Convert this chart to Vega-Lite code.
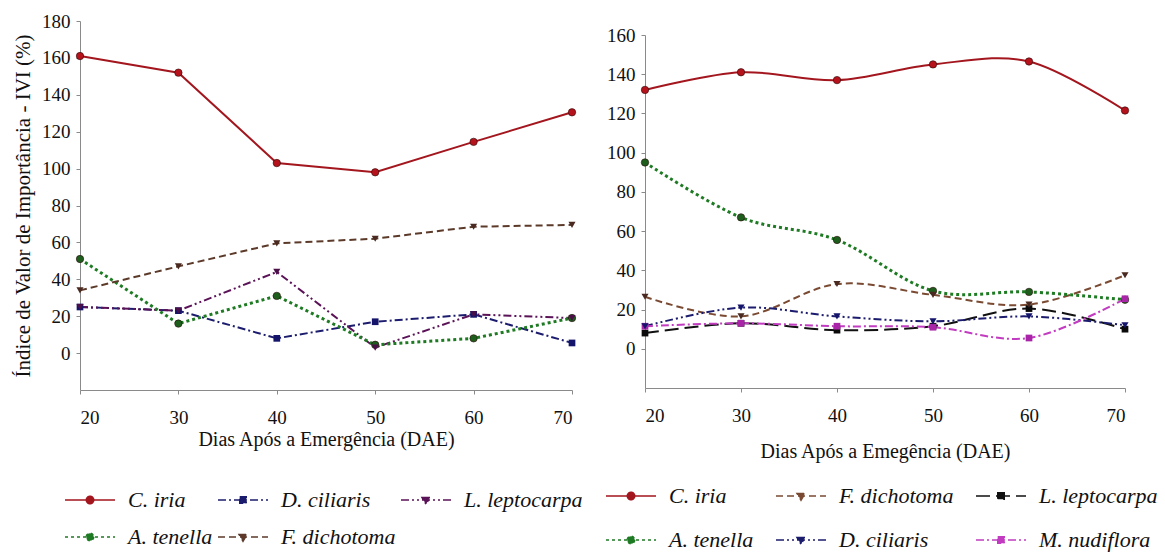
{
  "$schema": "https://vega.github.io/schema/vega-lite/v6.json",
  "padding": {"left": 12, "top": 12, "right": 5, "bottom": 5},
  "config": {
    "view": {"stroke": null},
    "axis": {"labelFont": "Liberation Serif", "labelFontSize": 19, "labelColor": "#111", "titleFont": "Liberation Serif", "titleFontWeight": "normal", "titleColor": "#111", "domainColor": "#8a8a8a", "tickColor": "#8a8a8a", "tickSize": 4, "grid": false},
    "legend": {"title": null, "orient": "none", "direction": "horizontal", "columns": 3, "gridAlign": "each", "symbolSize": 2500, "symbolStrokeWidth": 1.5, "labelFont": "Liberation Serif", "labelFontStyle": "italic", "labelFontSize": 22, "labelColor": "#111", "labelOffset": 12, "labelLimit": 400, "padding": 0}
  },
  "datasets": {
    "a": [
      {"dae": 20, "species": "C. iria", "ivi": 161}, {"dae": 30, "species": "C. iria", "ivi": 152}, {"dae": 40, "species": "C. iria", "ivi": 103}, {"dae": 50, "species": "C. iria", "ivi": 98}, {"dae": 60, "species": "C. iria", "ivi": 114.5}, {"dae": 70, "species": "C. iria", "ivi": 130.5},
      {"dae": 20, "species": "D. ciliaris", "ivi": 25}, {"dae": 30, "species": "D. ciliaris", "ivi": 23}, {"dae": 40, "species": "D. ciliaris", "ivi": 8}, {"dae": 50, "species": "D. ciliaris", "ivi": 17}, {"dae": 60, "species": "D. ciliaris", "ivi": 21}, {"dae": 70, "species": "D. ciliaris", "ivi": 5.5},
      {"dae": 20, "species": "L. leptocarpa", "ivi": 25}, {"dae": 30, "species": "L. leptocarpa", "ivi": 23}, {"dae": 40, "species": "L. leptocarpa", "ivi": 44}, {"dae": 50, "species": "L. leptocarpa", "ivi": 3}, {"dae": 60, "species": "L. leptocarpa", "ivi": 21}, {"dae": 70, "species": "L. leptocarpa", "ivi": 19},
      {"dae": 20, "species": "A. tenella", "ivi": 51}, {"dae": 30, "species": "A. tenella", "ivi": 16}, {"dae": 40, "species": "A. tenella", "ivi": 31}, {"dae": 50, "species": "A. tenella", "ivi": 4.5}, {"dae": 60, "species": "A. tenella", "ivi": 8}, {"dae": 70, "species": "A. tenella", "ivi": 19},
      {"dae": 20, "species": "F. dichotoma", "ivi": 34}, {"dae": 30, "species": "F. dichotoma", "ivi": 47}, {"dae": 40, "species": "F. dichotoma", "ivi": 59.5}, {"dae": 50, "species": "F. dichotoma", "ivi": 62}, {"dae": 60, "species": "F. dichotoma", "ivi": 68.5}, {"dae": 70, "species": "F. dichotoma", "ivi": 69.5}
    ],
    "b": [
      {"dae": 20, "species": "C. iria", "ivi": 132}, {"dae": 30, "species": "C. iria", "ivi": 141}, {"dae": 40, "species": "C. iria", "ivi": 137}, {"dae": 50, "species": "C. iria", "ivi": 145}, {"dae": 60, "species": "C. iria", "ivi": 146.5}, {"dae": 70, "species": "C. iria", "ivi": 121.5},
      {"dae": 20, "species": "F. dichotoma", "ivi": 26.5}, {"dae": 30, "species": "F. dichotoma", "ivi": 16.5}, {"dae": 40, "species": "F. dichotoma", "ivi": 33}, {"dae": 50, "species": "F. dichotoma", "ivi": 27.5}, {"dae": 60, "species": "F. dichotoma", "ivi": 22.5}, {"dae": 70, "species": "F. dichotoma", "ivi": 37.5},
      {"dae": 20, "species": "L. leptocarpa", "ivi": 8}, {"dae": 30, "species": "L. leptocarpa", "ivi": 13}, {"dae": 40, "species": "L. leptocarpa", "ivi": 9.5}, {"dae": 50, "species": "L. leptocarpa", "ivi": 11.5}, {"dae": 60, "species": "L. leptocarpa", "ivi": 20.5}, {"dae": 70, "species": "L. leptocarpa", "ivi": 10},
      {"dae": 20, "species": "A. tenella", "ivi": 95}, {"dae": 30, "species": "A. tenella", "ivi": 67}, {"dae": 40, "species": "A. tenella", "ivi": 55.5}, {"dae": 50, "species": "A. tenella", "ivi": 29.5}, {"dae": 60, "species": "A. tenella", "ivi": 29}, {"dae": 70, "species": "A. tenella", "ivi": 25},
      {"dae": 20, "species": "D. ciliaris", "ivi": 11.5}, {"dae": 30, "species": "D. ciliaris", "ivi": 21}, {"dae": 40, "species": "D. ciliaris", "ivi": 16.5}, {"dae": 50, "species": "D. ciliaris", "ivi": 14}, {"dae": 60, "species": "D. ciliaris", "ivi": 16.5}, {"dae": 70, "species": "D. ciliaris", "ivi": 12},
      {"dae": 20, "species": "M. nudiflora", "ivi": 11.5}, {"dae": 30, "species": "M. nudiflora", "ivi": 13}, {"dae": 40, "species": "M. nudiflora", "ivi": 11.5}, {"dae": 50, "species": "M. nudiflora", "ivi": 11}, {"dae": 60, "species": "M. nudiflora", "ivi": 5.5}, {"dae": 70, "species": "M. nudiflora", "ivi": 25.5}
    ]
  },
  "spacing": 22,
  "resolve": {"scale": {"color": "independent", "fill": "independent", "stroke": "independent", "shape": "independent", "strokeDash": "independent"}},
  "hconcat": [
    {
      "width": 492,
      "height": 369,
      "data": {"name": "a"},
      "encoding": {
        "x": {"field": "dae", "type": "quantitative", "scale": {"domain": [20, 70], "nice": false, "zero": false}, "axis": {"values": [20, 30, 40, 50, 60, 70], "title": "Dias Após a Emergência (DAE)", "titleFontSize": 20, "labelPadding": 14, "titlePadding": 2}},
        "y": {"field": "ivi", "type": "quantitative", "scale": {"domain": [-20, 180], "nice": false, "zero": false}, "axis": {"values": [0, 20, 40, 60, 80, 100, 120, 140, 160, 180], "title": "Índice de Valor de Importância - IVI (%)", "titleFontSize": 21, "labelPadding": 6, "titlePadding": 8}}
      },
      "layer": [
        {"transform": [{"filter": {"field": "species", "equal": "C. iria"}}], "mark": {"type": "line", "color": "#a3161e", "strokeWidth": 2}},
        {"transform": [{"filter": {"field": "species", "equal": "D. ciliaris"}}], "mark": {"type": "line", "color": "#1c1c6e", "strokeWidth": 2, "strokeDash": [8, 3, 2, 3]}},
        {"transform": [{"filter": {"field": "species", "equal": "L. leptocarpa"}}], "mark": {"type": "line", "color": "#5b1358", "strokeWidth": 2, "strokeDash": [8, 3, 2, 3, 2, 3]}},
        {"transform": [{"filter": {"field": "species", "equal": "A. tenella"}}], "mark": {"type": "line", "color": "#1e7a23", "strokeWidth": 3, "strokeDash": [3, 3]}},
        {"transform": [{"filter": {"field": "species", "equal": "F. dichotoma"}}], "mark": {"type": "line", "color": "#5c3a2a", "strokeWidth": 2, "strokeDash": [7, 4]}},
        {
          "transform": [{"filter": {"field": "species", "oneOf": ["C. iria", "A. tenella"]}}],
          "mark": {"type": "point", "shape": "circle", "filled": true, "opacity": 1, "size": 55, "stroke": "#2a0a0a", "strokeWidth": 0.6},
          "encoding": {"color": {"field": "species", "type": "nominal", "scale": {"domain": ["F. dichotoma", "A. tenella", "L. leptocarpa", "D. ciliaris", "C. iria"], "range": ["#4a2a20", "#1d5e1d", "#4b0f48", "#14146a", "#b5121b"]}, "legend": null}}
        },
        {
          "transform": [{"filter": {"field": "species", "oneOf": ["D. ciliaris"]}}],
          "mark": {"type": "point", "shape": "square", "filled": true, "opacity": 1, "size": 45},
          "encoding": {"color": {"field": "species", "type": "nominal", "scale": {"domain": ["F. dichotoma", "A. tenella", "L. leptocarpa", "D. ciliaris", "C. iria"], "range": ["#4a2a20", "#1d5e1d", "#4b0f48", "#14146a", "#b5121b"]}, "legend": null}}
        },
        {
          "transform": [{"filter": {"field": "species", "oneOf": ["L. leptocarpa", "F. dichotoma"]}}],
          "mark": {"type": "point", "shape": "triangle-down", "filled": true, "opacity": 1, "size": 50},
          "encoding": {"color": {"field": "species", "type": "nominal", "scale": {"domain": ["F. dichotoma", "A. tenella", "L. leptocarpa", "D. ciliaris", "C. iria"], "range": ["#4a2a20", "#1d5e1d", "#4b0f48", "#14146a", "#b5121b"]}, "legend": null}}
        },
        {
          "transform": [{"filter": {"field": "species", "equal": "none"}}],
          "mark": {"type": "point", "filled": true, "opacity": 1, "strokeWidth": 1.5},
          "encoding": {
            "fill": {"field": "species", "type": "nominal", "scale": {"domain": ["C. iria", "D. ciliaris", "L. leptocarpa", "A. tenella", "F. dichotoma"], "range": ["#a3161e", "#1c1c6e", "#5b1358", "#1e7a23", "#5c3a2a"]},
              "legend": {"orient": "none", "legendX": -16, "legendY": 453, "columnPadding": 2, "rowPadding": -3}},
            "stroke": {"field": "species", "type": "nominal", "scale": {"domain": ["C. iria", "D. ciliaris", "L. leptocarpa", "A. tenella", "F. dichotoma"], "range": ["#a3161e", "#1c1c6e", "#5b1358", "#1e7a23", "#5c3a2a"]},
              "legend": {"orient": "none", "legendX": -16, "legendY": 453, "columnPadding": 2, "rowPadding": -3}},
            "shape": {"field": "species", "type": "nominal", "scale": {"domain": ["C. iria", "D. ciliaris", "L. leptocarpa", "A. tenella", "F. dichotoma"], "range": ["M-1,0H1M0.15,0A0.15,0.15,0,1,1,-0.15,0A0.15,0.15,0,1,1,0.15,0Z", "M-1,0H1M-0.13,-0.13H0.13V0.13H-0.13Z", "M-1,0H1M-0.16,-0.1H0.16L0,0.17Z", "M-1,0H1M0.15,0A0.15,0.15,0,1,1,-0.15,0A0.15,0.15,0,1,1,0.15,0Z", "M-1,0H1M-0.16,-0.1H0.16L0,0.17Z"]},
              "legend": {"orient": "none", "legendX": -16, "legendY": 453, "columnPadding": 2, "rowPadding": -3}},
            "strokeDash": {"field": "species", "type": "nominal", "scale": {"domain": ["C. iria", "D. ciliaris", "L. leptocarpa", "A. tenella", "F. dichotoma"], "range": [[1, 0], [8, 3, 2, 3], [8, 3, 2, 3, 2, 3], [3, 3], [7, 4]]},
              "legend": {"orient": "none", "legendX": -16, "legendY": 453, "columnPadding": 2, "rowPadding": -3}}
          }
        },
        {
          "data": {"values": [{"lbl": "A)"}]},
          "mark": {"type": "text", "font": "Liberation Sans", "fontSize": 22, "align": "left", "baseline": "middle", "dx": 9, "dy": 15, "color": "#111"},
          "encoding": {"x": {"datum": 20, "type": "quantitative"}, "y": {"datum": 180, "type": "quantitative"}, "text": {"field": "lbl"}}
        }
      ]
    },
    {
      "spacing": 4,
      "resolve": {"scale": {"color": "independent", "fill": "independent", "stroke": "independent", "shape": "independent", "strokeDash": "independent"}},
      "vconcat": [
        {"width": 1, "height": 1, "data": {"values": []}, "mark": "point"},
        {
          "width": 480,
          "height": 353,
          "data": {"name": "b"},
          "encoding": {
            "x": {"field": "dae", "type": "quantitative", "scale": {"domain": [20, 70], "nice": false, "zero": false}, "axis": {"values": [20, 30, 40, 50, 60, 70], "title": "Dias Após a Emegência (DAE)", "titleFontSize": 20, "labelPadding": 14, "titlePadding": 16}},
            "y": {"field": "ivi", "type": "quantitative", "scale": {"domain": [-20, 160], "nice": false, "zero": false}, "axis": {"values": [0, 20, 40, 60, 80, 100, 120, 140, 160], "title": null, "labelPadding": 6}}
          },
          "layer": [
            {"transform": [{"filter": {"field": "species", "equal": "C. iria"}}], "mark": {"type": "line", "interpolate": "cardinal", "color": "#a3161e", "strokeWidth": 2}},
            {"transform": [{"filter": {"field": "species", "equal": "F. dichotoma"}}], "mark": {"type": "line", "interpolate": "cardinal", "color": "#7a4a32", "strokeWidth": 2, "strokeDash": [7, 4]}},
            {"transform": [{"filter": {"field": "species", "equal": "L. leptocarpa"}}], "mark": {"type": "line", "interpolate": "cardinal", "color": "#111111", "strokeWidth": 2, "strokeDash": [14, 6]}},
            {"transform": [{"filter": {"field": "species", "equal": "A. tenella"}}], "mark": {"type": "line", "interpolate": "cardinal", "color": "#1e7a23", "strokeWidth": 3, "strokeDash": [3, 3]}},
            {"transform": [{"filter": {"field": "species", "equal": "D. ciliaris"}}], "mark": {"type": "line", "interpolate": "cardinal", "color": "#1c1c6e", "strokeWidth": 2, "strokeDash": [8, 3, 2, 3, 2, 3]}},
            {"transform": [{"filter": {"field": "species", "equal": "M. nudiflora"}}], "mark": {"type": "line", "interpolate": "cardinal", "color": "#c13cc1", "strokeWidth": 2, "strokeDash": [8, 3, 2, 3]}},
            {
              "transform": [{"filter": {"field": "species", "oneOf": ["C. iria", "A. tenella"]}}],
              "mark": {"type": "point", "shape": "circle", "filled": true, "opacity": 1, "size": 55, "stroke": "#2a0a0a", "strokeWidth": 0.6},
              "encoding": {"color": {"field": "species", "type": "nominal", "scale": {"domain": ["M. nudiflora", "D. ciliaris", "A. tenella", "L. leptocarpa", "F. dichotoma", "C. iria"], "range": ["#a825a8", "#14146a", "#1d5e1d", "#0a0a0a", "#4a2a20", "#b5121b"]}, "legend": null}}
            },
            {
              "transform": [{"filter": {"field": "species", "oneOf": ["L. leptocarpa", "M. nudiflora"]}}],
              "mark": {"type": "point", "shape": "square", "filled": true, "opacity": 1, "size": 45},
              "encoding": {"color": {"field": "species", "type": "nominal", "scale": {"domain": ["M. nudiflora", "D. ciliaris", "A. tenella", "L. leptocarpa", "F. dichotoma", "C. iria"], "range": ["#a825a8", "#14146a", "#1d5e1d", "#0a0a0a", "#4a2a20", "#b5121b"]}, "legend": null}}
            },
            {
              "transform": [{"filter": {"field": "species", "oneOf": ["F. dichotoma", "D. ciliaris"]}}],
              "mark": {"type": "point", "shape": "triangle-down", "filled": true, "opacity": 1, "size": 50},
              "encoding": {"color": {"field": "species", "type": "nominal", "scale": {"domain": ["M. nudiflora", "D. ciliaris", "A. tenella", "L. leptocarpa", "F. dichotoma", "C. iria"], "range": ["#a825a8", "#14146a", "#1d5e1d", "#0a0a0a", "#4a2a20", "#b5121b"]}, "legend": null}}
            },
            {
              "transform": [{"filter": {"field": "species", "equal": "none"}}],
              "mark": {"type": "point", "filled": true, "opacity": 1, "strokeWidth": 1.5},
              "encoding": {
                "fill": {"field": "species", "type": "nominal", "scale": {"domain": ["C. iria", "F. dichotoma", "L. leptocarpa", "A. tenella", "D. ciliaris", "M. nudiflora"], "range": ["#a3161e", "#7a4a32", "#111111", "#1e7a23", "#1c1c6e", "#c13cc1"]},
                  "legend": {"orient": "none", "legendX": -40, "legendY": 435, "columnPadding": 19, "rowPadding": 7}},
                "stroke": {"field": "species", "type": "nominal", "scale": {"domain": ["C. iria", "F. dichotoma", "L. leptocarpa", "A. tenella", "D. ciliaris", "M. nudiflora"], "range": ["#a3161e", "#7a4a32", "#111111", "#1e7a23", "#1c1c6e", "#c13cc1"]},
                  "legend": {"orient": "none", "legendX": -40, "legendY": 435, "columnPadding": 19, "rowPadding": 7}},
                "shape": {"field": "species", "type": "nominal", "scale": {"domain": ["C. iria", "F. dichotoma", "L. leptocarpa", "A. tenella", "D. ciliaris", "M. nudiflora"], "range": ["M-1,0H1M0.15,0A0.15,0.15,0,1,1,-0.15,0A0.15,0.15,0,1,1,0.15,0Z", "M-1,0H1M-0.16,-0.1H0.16L0,0.17Z", "M-1,0H1M-0.13,-0.13H0.13V0.13H-0.13Z", "M-1,0H1M0.15,0A0.15,0.15,0,1,1,-0.15,0A0.15,0.15,0,1,1,0.15,0Z", "M-1,0H1M-0.16,-0.1H0.16L0,0.17Z", "M-1,0H1M-0.13,-0.13H0.13V0.13H-0.13Z"]},
                  "legend": {"orient": "none", "legendX": -40, "legendY": 435, "columnPadding": 19, "rowPadding": 7}},
                "strokeDash": {"field": "species", "type": "nominal", "scale": {"domain": ["C. iria", "F. dichotoma", "L. leptocarpa", "A. tenella", "D. ciliaris", "M. nudiflora"], "range": [[1, 0], [7, 4], [14, 6], [3, 3], [8, 3, 2, 3, 2, 3], [8, 3, 2, 3]]},
                  "legend": {"orient": "none", "legendX": -40, "legendY": 435, "columnPadding": 19, "rowPadding": 7}}
              }
            },
            {
              "data": {"values": [{"lbl": "B)"}]},
              "mark": {"type": "text", "font": "Liberation Sans", "fontSize": 22, "align": "left", "baseline": "middle", "dx": 12, "dy": 14, "color": "#111"},
              "encoding": {"x": {"datum": 20, "type": "quantitative"}, "y": {"datum": 160, "type": "quantitative"}, "text": {"field": "lbl"}}
            }
          ]
        }
      ]
    }
  ]
}
